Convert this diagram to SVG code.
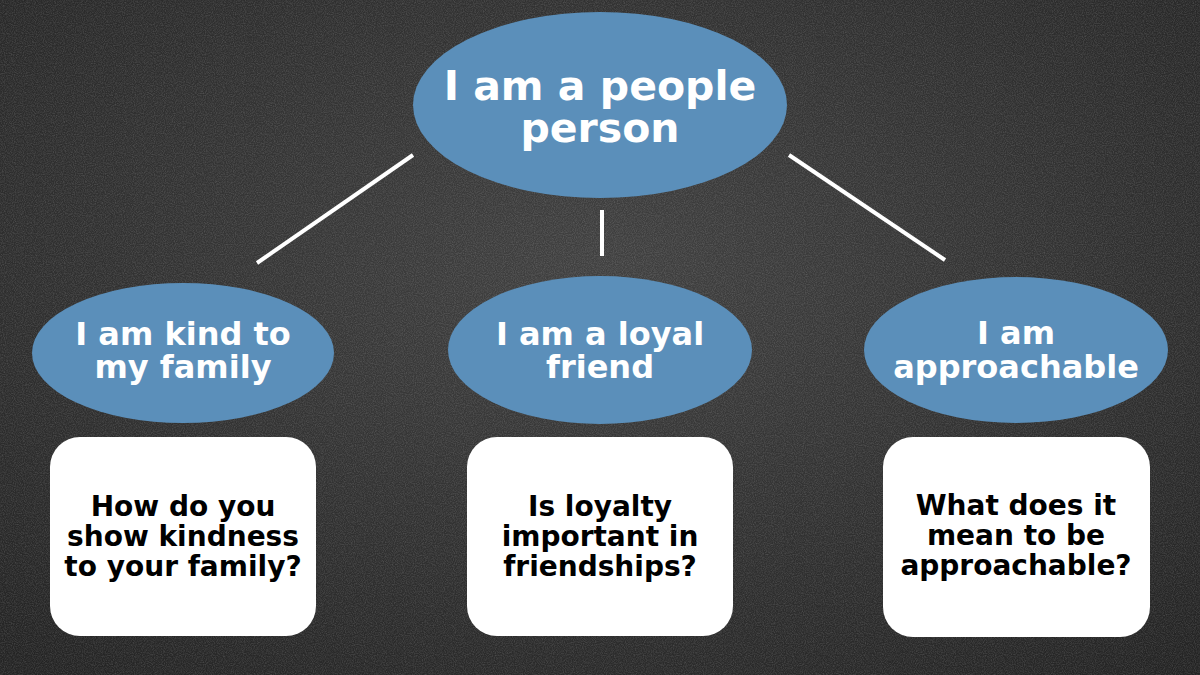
<svg xmlns="http://www.w3.org/2000/svg" width="1200" height="675" viewBox="0 0 1200 675">
<defs>
<radialGradient id="bg" cx="50%" cy="40%" r="75%">
<stop offset="0" stop-color="#414141"/>
<stop offset="1" stop-color="#242424"/>
</radialGradient>
<filter id="chalk" x="0" y="0" width="100%" height="100%">
<feTurbulence type="fractalNoise" baseFrequency="0.9" numOctaves="2" seed="3" result="n"/>
<feColorMatrix in="n" type="matrix" values="0 0 0 0 1  0 0 0 0 1  0 0 0 0 1  0 0 0 -1.6 1.05" result="w"/>
<feComposite in="w" in2="SourceGraphic" operator="in"/>
</filter>
<style>
.conn{stroke:#ffffff;stroke-width:4;fill:none}
.oval{fill:#5b8fba}
.box{fill:#ffffff}
.lt{font-family:"DejaVu Sans","Liberation Sans",sans-serif;font-weight:bold;fill:#ffffff;text-anchor:middle}
.bt{font-family:"DejaVu Sans","Liberation Sans",sans-serif;font-weight:bold;fill:#000000;text-anchor:middle;font-size:28px}
</style>
</defs>
<rect width="1200" height="675" fill="url(#bg)"/>
<rect width="1200" height="675" fill="#000" filter="url(#chalk)" opacity="0.16"/>
<g id="connectors">
<line class="conn" x1="413" y1="155" x2="257" y2="263"/>
<line class="conn" x1="602" y1="210" x2="602" y2="256"/>
<line class="conn" x1="789" y1="155" x2="945" y2="260"/>
</g>
<g id="root">
<ellipse class="oval" cx="600" cy="105" rx="187" ry="93"/>
<text class="lt" x="600" y="100" font-size="41">I am a people</text>
<text class="lt" x="600" y="142" font-size="41">person</text>
</g>
<g id="kind">
<ellipse class="oval" cx="183" cy="353" rx="151" ry="70"/>
<text class="lt" x="183" y="345" font-size="32">I am kind to</text>
<text class="lt" x="183" y="378" font-size="32">my family</text>
</g>
<g id="loyal">
<ellipse class="oval" cx="600" cy="350" rx="152" ry="74"/>
<text class="lt" x="600" y="345" font-size="32">I am a loyal</text>
<text class="lt" x="600" y="378" font-size="32">friend</text>
</g>
<g id="approachable">
<ellipse class="oval" cx="1016" cy="350" rx="152" ry="73"/>
<text class="lt" x="1016" y="344" font-size="32">I am</text>
<text class="lt" x="1016" y="378" font-size="32">approachable</text>
</g>
<g id="q-kind">
<rect class="box" x="50" y="437" width="266" height="199" rx="30"/>
<text class="bt" x="183" y="516">How do you</text>
<text class="bt" x="183" y="546">show kindness</text>
<text class="bt" x="183" y="576">to your family?</text>
</g>
<g id="q-loyal">
<rect class="box" x="467" y="437" width="266" height="199" rx="30"/>
<text class="bt" x="600" y="516">Is loyalty</text>
<text class="bt" x="600" y="546">important in</text>
<text class="bt" x="600" y="576">friendships?</text>
</g>
<g id="q-approachable">
<rect class="box" x="883" y="437" width="267" height="200" rx="30"/>
<text class="bt" x="1016" y="515">What does it</text>
<text class="bt" x="1016" y="545">mean to be</text>
<text class="bt" x="1016" y="575">approachable?</text>
</g>
</svg>
